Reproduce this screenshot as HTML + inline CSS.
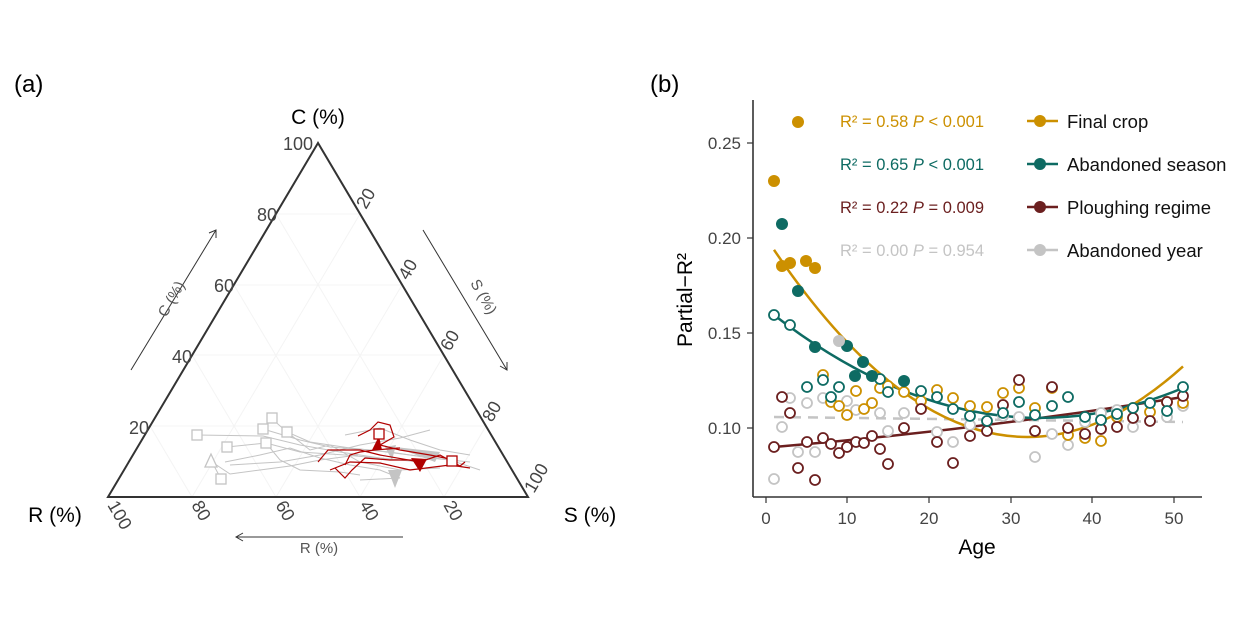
<!DOCTYPE html>
<html><head><meta charset="utf-8"><style>
body{margin:0;background:#fff;}
svg{display:block;font-family:"Liberation Sans",sans-serif;}
</style></head><body>
<svg width="1253" height="634" viewBox="0 0 1253 634">
<rect width="1253" height="634" fill="#fff"/>
<text x="14" y="92" font-size="24">(a)</text>
<text x="650" y="92" font-size="24">(b)</text>

<!-- ternary grid -->
<g stroke="#f4f4f4" stroke-width="1">
<line x1="150" y1="426" x2="486" y2="426"/><line x1="192" y1="355" x2="444" y2="355"/><line x1="234" y1="285" x2="402" y2="285"/><line x1="276" y1="214" x2="360" y2="214"/>
<line x1="192" y1="497" x2="360" y2="214"/><line x1="276" y1="497" x2="402" y2="285"/><line x1="360" y1="497" x2="444" y2="355"/><line x1="444" y1="497" x2="486" y2="426"/>
<line x1="444" y1="497" x2="276" y2="214"/><line x1="360" y1="497" x2="234" y2="285"/><line x1="276" y1="497" x2="192" y2="355"/><line x1="192" y1="497" x2="150" y2="426"/>
</g>
<polygon points="318,143 108,497 528,497" fill="none" stroke="#333" stroke-width="2"/>
<text x="318" y="124" font-size="21" text-anchor="middle">C (%)</text>
<text x="55" y="522" font-size="21" text-anchor="middle">R (%)</text>
<text x="590" y="522" font-size="21" text-anchor="middle">S (%)</text>
<g font-size="18" fill="#444" text-anchor="end">
<text x="313" y="150">100</text><text x="277" y="221">80</text><text x="234" y="292">60</text><text x="192" y="363">40</text><text x="149" y="434">20</text>
</g>
<g font-size="18" fill="#444">
<text transform="translate(366,210) rotate(-60)">20</text>
<text transform="translate(408,281) rotate(-60)">40</text>
<text transform="translate(450,352) rotate(-60)">60</text>
<text transform="translate(492,423) rotate(-60)">80</text>
<text transform="translate(534,494) rotate(-60)">100</text>
<text transform="translate(107,505) rotate(60)">100</text>
<text transform="translate(191,505) rotate(60)">80</text>
<text transform="translate(275,505) rotate(60)">60</text>
<text transform="translate(359,505) rotate(60)">40</text>
<text transform="translate(443,505) rotate(60)">20</text>
</g>
<g stroke="#333" stroke-width="1" fill="none">
<line x1="131" y1="370" x2="216" y2="230"/><polyline points="209,233 216,230 216,238"/>
<line x1="423" y1="230" x2="507" y2="370"/><polyline points="507,362 507,370 500,366"/>
<line x1="403" y1="537" x2="236" y2="537"/><polyline points="243,533 236,537 243,541"/>
</g>
<text transform="translate(166,318) rotate(-60)" font-size="15" fill="#555">C (%)</text>
<text transform="translate(470,283) rotate(60)" font-size="15" fill="#555">S (%)</text>
<text x="319" y="553" font-size="15" fill="#555" text-anchor="middle">R (%)</text>

<!-- ternary data grey -->
<g stroke="#c4c4c4" stroke-width="1" fill="none">
<polyline points="197,435 263,436 300,445 340,452 380,458 420,462"/>
<polyline points="227,447 266,443 300,452 345,455 400,460"/>
<polyline points="221,479 212,462 230,474 260,470 290,466 320,460 358,455"/>
<polyline points="263,429 300,440 330,447 370,450 410,455 450,460 480,470"/>
<polyline points="271,418 287,432 310,442 350,448 390,452 430,458 470,462"/>
<polyline points="266,443 280,460 300,470 340,472 360,475"/>
<polyline points="287,432 310,450 330,445 360,462 400,470 440,468"/>
<polyline points="225,462 260,455 290,448 320,458 350,465 380,470 400,478 360,480"/>
<polyline points="230,465 280,462 320,455 360,445 400,438 430,430"/>
<polyline points="345,435 380,428 410,440 440,450 470,455"/>
</g>
<g fill="#c4c4c4"><polygon points="385,447 392,460 396,445"/><polygon points="388,470 395,488 402,470"/><polygon points="395,447 440,452 435,462"/></g>
<g fill="#fff" stroke="#c4c4c4" stroke-width="1.3">
<rect x="192" y="430" width="10" height="10"/><rect x="222" y="442" width="10" height="10"/><rect x="216" y="474" width="10" height="10"/><rect x="258" y="424" width="10" height="10"/><rect x="267" y="413" width="10" height="10"/><rect x="261" y="438" width="10" height="10"/><rect x="282" y="427" width="10" height="10"/>
<polygon points="211,454 205,467 217,467"/>
</g>
<!-- ternary red -->
<g stroke="#b00000" stroke-width="1.2" fill="none">
<polyline points="318,462 328,450 360,450 380,455 420,462 440,455 460,466 465,462"/>
<polyline points="330,470 350,462 380,463 410,470 450,465 470,468"/>
<polyline points="335,468 345,478 352,470 365,458 390,460 420,460"/>
<polyline points="358,436 370,430 378,422 390,425 394,437 380,445 400,450 430,455 455,460"/>
<polyline points="345,465 350,455 360,452 375,450 400,448"/>
</g>
<g fill="#b00000"><polygon points="372,450 382,450 379,436"/><polygon points="411,458 427,459 420,472"/></g>
<g fill="#fff" stroke="#b00000" stroke-width="1.3"><rect x="374" y="429" width="10" height="10"/><rect x="447" y="456" width="10" height="10"/></g>

<!-- panel b axes -->
<g stroke="#333" stroke-width="1.6"><line x1="753" y1="100" x2="753" y2="497"/><line x1="753" y1="497" x2="1202" y2="497"/></g>
<g stroke="#333" stroke-width="1.2">
<line x1="747" y1="143" x2="753" y2="143"/><line x1="747" y1="238" x2="753" y2="238"/><line x1="747" y1="333" x2="753" y2="333"/><line x1="747" y1="428" x2="753" y2="428"/>
<line x1="766" y1="497" x2="766" y2="503"/><line x1="847" y1="497" x2="847" y2="503"/><line x1="929" y1="497" x2="929" y2="503"/><line x1="1011" y1="497" x2="1011" y2="503"/><line x1="1092" y1="497" x2="1092" y2="503"/><line x1="1174" y1="497" x2="1174" y2="503"/>
</g>
<g font-size="17" fill="#444" text-anchor="end"><text x="741" y="149">0.25</text><text x="741" y="244">0.20</text><text x="741" y="339">0.15</text><text x="741" y="434">0.10</text></g>
<g font-size="17" fill="#444" text-anchor="middle"><text x="766" y="524">0</text><text x="847" y="524">10</text><text x="929" y="524">20</text><text x="1011" y="524">30</text><text x="1092" y="524">40</text><text x="1174" y="524">50</text></g>
<text x="977" y="554" font-size="21" text-anchor="middle">Age</text>
<text transform="translate(692,300) rotate(-90)" font-size="21" text-anchor="middle">Partial−R²</text>

<!-- fits -->
<line x1="774" y1="417" x2="1183" y2="422" stroke="#c4c4c4" stroke-width="2.5" stroke-dasharray="10,7"/>
<path d="M774,447 Q978,430 1183,397" stroke="#6b1f1f" stroke-width="2.5" fill="none"/>
<path d="M774,315 Q978.5,473.4 1183,388" stroke="#0e6b63" stroke-width="2.5" fill="none"/>
<path d="M774,249.8 Q978.5,551.9 1183,366.4" stroke="#cc9000" stroke-width="2.5" fill="none"/>

<!-- open points -->
<g fill="#fff" stroke-width="1.8">
<g stroke="#c4c4c4">
<circle cx="774" cy="479" r="5"/><circle cx="782" cy="427" r="5"/><circle cx="790" cy="398" r="5"/><circle cx="798" cy="452" r="5"/><circle cx="807" cy="403" r="5"/><circle cx="815" cy="452" r="5"/><circle cx="823" cy="398" r="5"/><circle cx="847" cy="401" r="5"/><circle cx="856" cy="410" r="5"/><circle cx="880" cy="413" r="5"/><circle cx="888" cy="431" r="5"/><circle cx="904" cy="413" r="5"/><circle cx="937" cy="432" r="5"/><circle cx="953" cy="442" r="5"/><circle cx="970" cy="425" r="5"/><circle cx="1003" cy="416" r="5"/><circle cx="1019" cy="417" r="5"/><circle cx="1035" cy="457" r="5"/><circle cx="1052" cy="434" r="5"/><circle cx="1068" cy="445" r="5"/><circle cx="1085" cy="422" r="5"/><circle cx="1101" cy="413" r="5"/><circle cx="1117" cy="410" r="5"/><circle cx="1133" cy="427" r="5"/><circle cx="1167" cy="417" r="5"/><circle cx="1183" cy="406" r="5"/>
</g>
<g stroke="#cc9000">
<circle cx="823" cy="375" r="5"/><circle cx="831" cy="402" r="5"/><circle cx="839" cy="406" r="5"/><circle cx="847" cy="415" r="5"/><circle cx="856" cy="391" r="5"/><circle cx="864" cy="409" r="5"/><circle cx="872" cy="403" r="5"/><circle cx="880" cy="388" r="5"/><circle cx="888" cy="386" r="5"/><circle cx="904" cy="392" r="5"/><circle cx="921" cy="401" r="5"/><circle cx="937" cy="390" r="5"/><circle cx="953" cy="398" r="5"/><circle cx="970" cy="406" r="5"/><circle cx="987" cy="407" r="5"/><circle cx="1003" cy="393" r="5"/><circle cx="1019" cy="388" r="5"/><circle cx="1035" cy="408" r="5"/><circle cx="1052" cy="388" r="5"/><circle cx="1068" cy="435" r="5"/><circle cx="1085" cy="438" r="5"/><circle cx="1101" cy="441" r="5"/><circle cx="1117" cy="417" r="5"/><circle cx="1133" cy="408" r="5"/><circle cx="1150" cy="412" r="5"/><circle cx="1167" cy="402" r="5"/><circle cx="1183" cy="403" r="5"/>
</g>
<g stroke="#6b1f1f">
<circle cx="774" cy="447" r="5"/><circle cx="782" cy="397" r="5"/><circle cx="790" cy="413" r="5"/><circle cx="798" cy="468" r="5"/><circle cx="807" cy="442" r="5"/><circle cx="815" cy="480" r="5"/><circle cx="823" cy="438" r="5"/><circle cx="831" cy="444" r="5"/><circle cx="839" cy="453" r="5"/><circle cx="847" cy="447" r="5"/><circle cx="856" cy="442" r="5"/><circle cx="864" cy="443" r="5"/><circle cx="872" cy="436" r="5"/><circle cx="880" cy="449" r="5"/><circle cx="888" cy="464" r="5"/><circle cx="904" cy="428" r="5"/><circle cx="921" cy="409" r="5"/><circle cx="937" cy="442" r="5"/><circle cx="953" cy="463" r="5"/><circle cx="970" cy="436" r="5"/><circle cx="987" cy="431" r="5"/><circle cx="1003" cy="405" r="5"/><circle cx="1019" cy="380" r="5"/><circle cx="1035" cy="431" r="5"/><circle cx="1052" cy="387" r="5"/><circle cx="1068" cy="428" r="5"/><circle cx="1085" cy="434" r="5"/><circle cx="1101" cy="429" r="5"/><circle cx="1117" cy="427" r="5"/><circle cx="1133" cy="418" r="5"/><circle cx="1150" cy="421" r="5"/><circle cx="1167" cy="402" r="5"/><circle cx="1183" cy="396" r="5"/>
</g>
<g stroke="#0e6b63">
<circle cx="774" cy="315" r="5"/><circle cx="790" cy="325" r="5"/><circle cx="807" cy="387" r="5"/><circle cx="823" cy="380" r="5"/><circle cx="831" cy="397" r="5"/><circle cx="839" cy="387" r="5"/><circle cx="880" cy="379" r="5"/><circle cx="888" cy="392" r="5"/><circle cx="921" cy="391" r="5"/><circle cx="937" cy="397" r="5"/><circle cx="953" cy="409" r="5"/><circle cx="970" cy="416" r="5"/><circle cx="987" cy="421" r="5"/><circle cx="1003" cy="413" r="5"/><circle cx="1019" cy="402" r="5"/><circle cx="1035" cy="415" r="5"/><circle cx="1052" cy="406" r="5"/><circle cx="1068" cy="397" r="5"/><circle cx="1085" cy="417" r="5"/><circle cx="1101" cy="420" r="5"/><circle cx="1117" cy="414" r="5"/><circle cx="1133" cy="408" r="5"/><circle cx="1150" cy="403" r="5"/><circle cx="1167" cy="411" r="5"/><circle cx="1183" cy="387" r="5"/>
</g>
</g>
<!-- filled points -->
<g fill="#cc9000"><circle cx="774" cy="181" r="6"/><circle cx="782" cy="266" r="6"/><circle cx="790" cy="263" r="6"/><circle cx="798" cy="122" r="6"/><circle cx="806" cy="261" r="6"/><circle cx="815" cy="268" r="6"/></g>
<g fill="#0e6b63"><circle cx="782" cy="224" r="6"/><circle cx="798" cy="291" r="6"/><circle cx="815" cy="347" r="6"/><circle cx="847" cy="346" r="6"/><circle cx="863" cy="362" r="6"/><circle cx="855" cy="376" r="6"/><circle cx="872" cy="376" r="6"/><circle cx="904" cy="381" r="6"/></g>
<circle cx="839" cy="341" r="6" fill="#c4c4c4"/>

<!-- legend -->
<g font-size="16.5">
<text x="840" y="127" fill="#cc9000">R² = 0.58  <tspan font-style="italic">P</tspan> &lt; 0.001</text>
<text x="840" y="170" fill="#0e6b63">R² = 0.65  <tspan font-style="italic">P</tspan> &lt; 0.001</text>
<text x="840" y="213" fill="#6b1f1f">R² = 0.22  <tspan font-style="italic">P</tspan> = 0.009</text>
<text x="840" y="256" fill="#c4c4c4">R² = 0.00  <tspan font-style="italic">P</tspan> = 0.954</text>
</g>
<g stroke-width="2.5">
<line x1="1027" y1="121" x2="1058" y2="121" stroke="#cc9000"/><circle cx="1040" cy="121" r="6" fill="#cc9000"/>
<line x1="1027" y1="164" x2="1058" y2="164" stroke="#0e6b63"/><circle cx="1040" cy="164" r="6" fill="#0e6b63"/>
<line x1="1027" y1="207" x2="1058" y2="207" stroke="#6b1f1f"/><circle cx="1040" cy="207" r="6" fill="#6b1f1f"/>
<line x1="1027" y1="250" x2="1058" y2="250" stroke="#c4c4c4"/><circle cx="1040" cy="250" r="6" fill="#c4c4c4"/>
</g>
<g font-size="18.5" fill="#111">
<text x="1067" y="128">Final crop</text><text x="1067" y="171">Abandoned season</text><text x="1067" y="214">Ploughing regime</text><text x="1067" y="257">Abandoned year</text>
</g>
</svg>
</body></html>
